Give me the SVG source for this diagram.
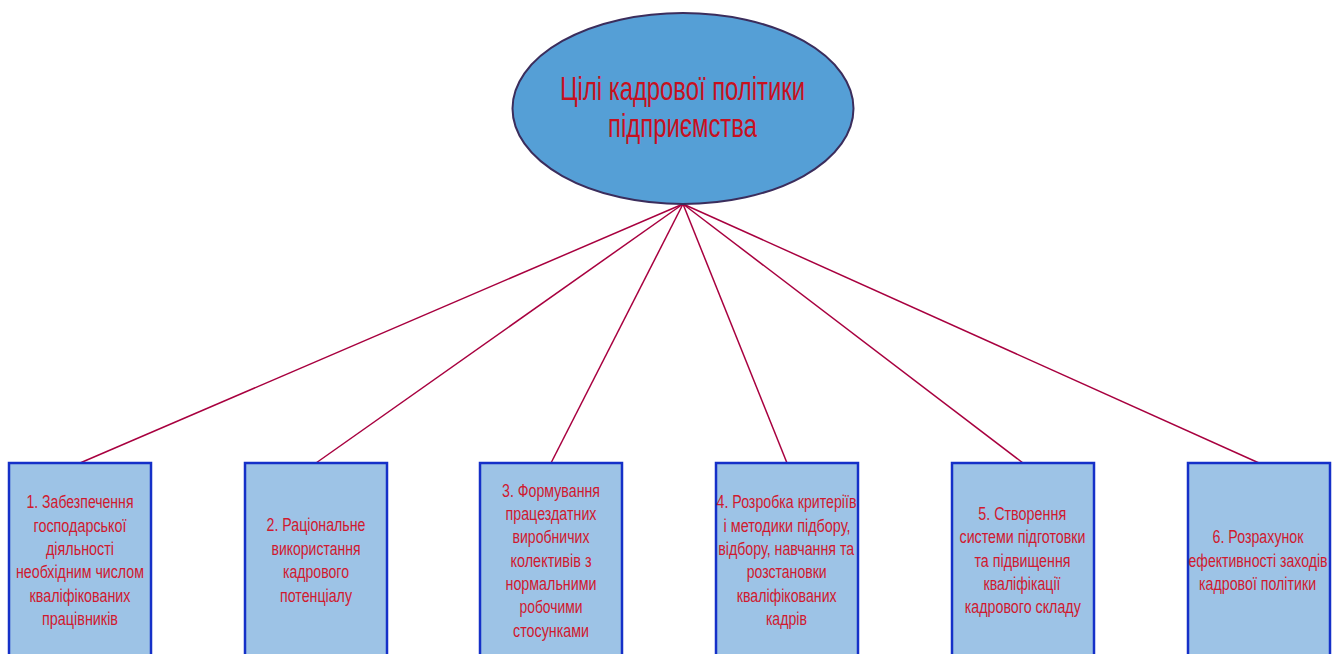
<svg xmlns="http://www.w3.org/2000/svg" width="1338" height="654" viewBox="0 0 1338 654">
<style>
.box{fill:#9dc3e6;stroke:#1530c8;stroke-width:2.5}
.t{font-family:"Liberation Sans",Arial,sans-serif;font-size:17.5px;fill:#d0192f;text-anchor:middle}
.title{font-family:"Liberation Sans",Arial,sans-serif;font-size:33px;fill:#c8101e;text-anchor:middle}
.c{stroke:#a8003f;stroke-width:1.5;fill:none}
</style>
<rect width="1338" height="654" fill="#ffffff"/>
<g id="connectors">
<line class="c" x1="683" y1="204" x2="80" y2="463"/>
<line class="c" x1="683" y1="204" x2="316" y2="463"/>
<line class="c" x1="683" y1="204" x2="551" y2="463"/>
<line class="c" x1="683" y1="204" x2="787" y2="463"/>
<line class="c" x1="683" y1="204" x2="1023" y2="463"/>
<line class="c" x1="683" y1="204" x2="1259" y2="463"/>
</g>
<g id="root">
<ellipse cx="683" cy="108.5" rx="170.5" ry="95.5" fill="#559fd6" stroke="#3b2d5c" stroke-width="2"/>
<text class="title" x="682.5" y="99.5" textLength="245" lengthAdjust="spacingAndGlyphs">Цілі кадрової політики</text>
<text class="title" x="682.5" y="137" textLength="149" lengthAdjust="spacingAndGlyphs">підприємства</text>
</g>
<g id="node1">
<rect class="box" x="9" y="463" width="142" height="200"/>
<text class="t" x="80" y="508.3" textLength="107" lengthAdjust="spacingAndGlyphs">1. Забезпечення</text>
<text class="t" x="80" y="531.6" textLength="93" lengthAdjust="spacingAndGlyphs">господарської</text>
<text class="t" x="80" y="555" textLength="68" lengthAdjust="spacingAndGlyphs">діяльності</text>
<text class="t" x="80" y="578.3" textLength="128" lengthAdjust="spacingAndGlyphs">необхідним числом</text>
<text class="t" x="80" y="601.6" textLength="101" lengthAdjust="spacingAndGlyphs">кваліфікованих</text>
<text class="t" x="80" y="625" textLength="76" lengthAdjust="spacingAndGlyphs">працівників</text>
</g>
<g id="node2">
<rect class="box" x="245" y="463" width="142" height="200"/>
<text class="t" x="316" y="531" textLength="99" lengthAdjust="spacingAndGlyphs">2. Раціональне</text>
<text class="t" x="316" y="554.5" textLength="89" lengthAdjust="spacingAndGlyphs">використання</text>
<text class="t" x="316" y="578" textLength="66" lengthAdjust="spacingAndGlyphs">кадрового</text>
<text class="t" x="316" y="601.5" textLength="72" lengthAdjust="spacingAndGlyphs">потенціалу</text>
</g>
<g id="node3">
<rect class="box" x="480" y="463" width="142" height="200"/>
<text class="t" x="551" y="496.7" textLength="98" lengthAdjust="spacingAndGlyphs">3. Формування</text>
<text class="t" x="551" y="520" textLength="91" lengthAdjust="spacingAndGlyphs">працездатних</text>
<text class="t" x="551" y="543.3" textLength="77" lengthAdjust="spacingAndGlyphs">виробничих</text>
<text class="t" x="551" y="566.7" textLength="81" lengthAdjust="spacingAndGlyphs">колективів з</text>
<text class="t" x="551" y="590" textLength="91" lengthAdjust="spacingAndGlyphs">нормальними</text>
<text class="t" x="551" y="613.3" textLength="63" lengthAdjust="spacingAndGlyphs">робочими</text>
<text class="t" x="551" y="636.7" textLength="76" lengthAdjust="spacingAndGlyphs">стосунками</text>
</g>
<g id="node4">
<rect class="box" x="716" y="463" width="142" height="200"/>
<text class="t" x="786.5" y="508.3" textLength="140" lengthAdjust="spacingAndGlyphs">4. Розробка критеріїв</text>
<text class="t" x="787" y="531.6" textLength="127" lengthAdjust="spacingAndGlyphs">і методики підбору,</text>
<text class="t" x="786.2" y="555" textLength="136" lengthAdjust="spacingAndGlyphs">відбору, навчання та</text>
<text class="t" x="786.7" y="578.3" textLength="80" lengthAdjust="spacingAndGlyphs">розстановки</text>
<text class="t" x="786.7" y="601.6" textLength="100" lengthAdjust="spacingAndGlyphs">кваліфікованих</text>
<text class="t" x="786.4" y="625" textLength="41" lengthAdjust="spacingAndGlyphs">кадрів</text>
</g>
<g id="node5">
<rect class="box" x="952" y="463" width="142" height="200"/>
<text class="t" x="1022.2" y="520" textLength="88" lengthAdjust="spacingAndGlyphs">5. Створення</text>
<text class="t" x="1022.5" y="543.3" textLength="126" lengthAdjust="spacingAndGlyphs">системи підготовки</text>
<text class="t" x="1022.5" y="566.7" textLength="96" lengthAdjust="spacingAndGlyphs">та підвищення</text>
<text class="t" x="1022" y="590" textLength="77" lengthAdjust="spacingAndGlyphs">кваліфікації</text>
<text class="t" x="1022.8" y="613.3" textLength="116" lengthAdjust="spacingAndGlyphs">кадрового складу</text>
</g>
<g id="node6">
<rect class="box" x="1188" y="463" width="142" height="200"/>
<text class="t" x="1258" y="543.3" textLength="91" lengthAdjust="spacingAndGlyphs">6. Розрахунок</text>
<text class="t" x="1258" y="566.7" textLength="139" lengthAdjust="spacingAndGlyphs">ефективності заходів</text>
<text class="t" x="1257.6" y="590" textLength="117" lengthAdjust="spacingAndGlyphs">кадрової політики</text>
</g>
</svg>
